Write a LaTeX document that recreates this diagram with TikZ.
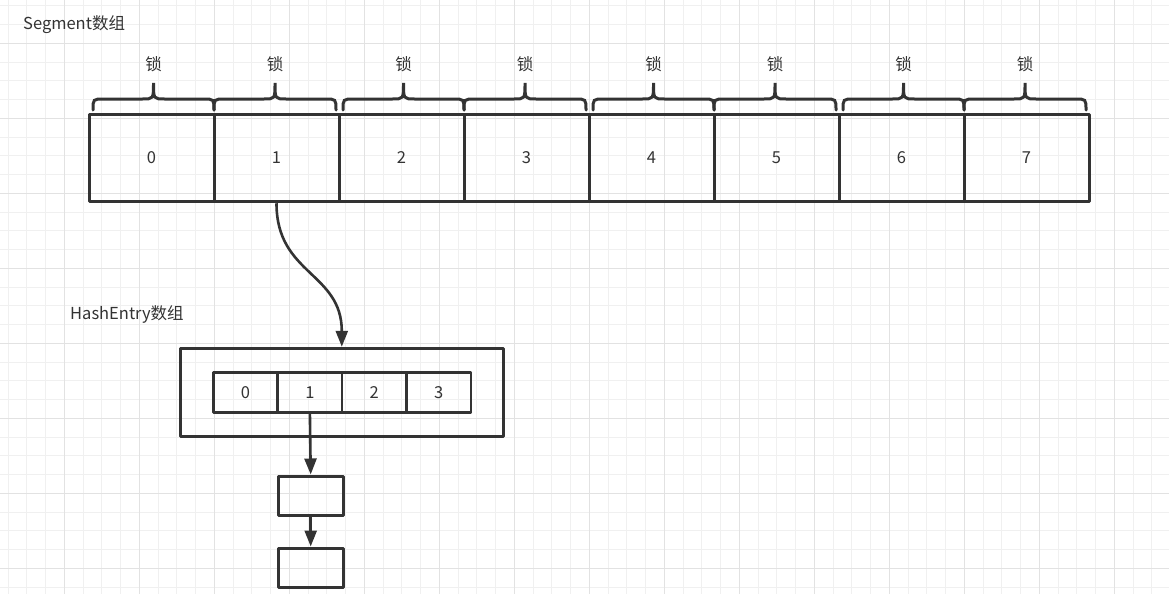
\documentclass[tikz,border=0pt]{standalone}
\usepackage{fontspec}
\setmainfont{Noto Sans CJK SC}
\usetikzlibrary{arrows.meta}
\definecolor{ink}{HTML}{333333}
\definecolor{gridminor}{HTML}{F0F0F0}
\definecolor{gridmajor}{HTML}{E2E2E2}
\tikzset{
  cell/.style={draw=ink, line width=3pt, line join=round, minimum width=125pt, minimum height=87.5pt, inner sep=0pt, font=\fontsize{16.5}{19}\selectfont, text=ink},
  outerbox/.style={draw=ink, line width=3pt, line join=round, minimum width=323pt, minimum height=88.5pt, inner sep=0pt},
  hcell/.style={draw=ink, line width=2.5pt, line join=round, minimum width=64.4pt, minimum height=39.6pt, inner sep=0pt, font=\fontsize{16.5}{19}\selectfont, text=ink},
  smallbox/.style={draw=ink, line width=3pt, line join=round, minimum width=65pt, minimum height=39pt, inner sep=0pt},
  lbl/.style={text=ink, font=\fontsize{16.5}{19}\selectfont, inner sep=0pt},
  brace/.style={draw=ink, line width=3pt, line cap=round},
  arr/.style={draw=ink, line width=2.6pt, -{Triangle[length=16pt,width=12pt]}},
}
\newcommand{\lockbrace}[3]{%
  \pgfmathsetmacro{\bm}{(#1+#2)/2}%
  \draw[brace] (#1,110) .. controls (#1,99) .. (#1+11,99) -- (\bm-11,99) .. controls (\bm,99) .. (\bm,83)
     .. controls (\bm,99) .. (\bm+11,99) -- (#2-11,99) .. controls (#2,99) .. (#2,110);
  \node[lbl] (#3) at (\bm,64) {锁};
}
\begin{document}
\begin{tikzpicture}[x=1pt,y=-1pt]
\useasboundingbox (0,0) rectangle (1169,594);
\fill[white] (0,0) rectangle (1169,594);
% grid
\foreach \i in {0,...,62} {
  \pgfmathsetmacro{\gx}{8.05+18.75*\i}
  \draw[gridminor, line width=1pt] (\gx,0) -- (\gx,594);
}
\foreach \i in {0,...,31} {
  \pgfmathsetmacro{\gy}{5.8+18.75*\i}
  \draw[gridminor, line width=1pt] (0,\gy) -- (1169,\gy);
}
\foreach \i in {0,...,15} {
  \pgfmathsetmacro{\gx}{64.3+75*\i}
  \draw[gridmajor, line width=1pt] (\gx,0) -- (\gx,594);
}
\foreach \i in {0,...,7} {
  \pgfmathsetmacro{\gy}{43.3+75*\i}
  \draw[gridmajor, line width=1pt] (0,\gy) -- (1169,\gy);
}
% titles
\node[lbl, anchor=west] (segtitle) at (23,25) {Segment数组};
\node[lbl, anchor=west] (hashtitle) at (70,314) {HashEntry数组};
% segment cells
\foreach \i in {0,...,7} {
  \node[cell] (s\i) at (151.5+125*\i,158) {\i};
}
% braces
\lockbrace{93}{214}{l0}
\lockbrace{214}{336}{l1}
\lockbrace{343}{464}{l2}
\lockbrace{464}{586}{l3}
\lockbrace{593}{714}{l4}
\lockbrace{714}{836}{l5}
\lockbrace{843}{964}{l6}
\lockbrace{964}{1086}{l7}
% hash entry
\node[outerbox] (hout) at (341.8,392.5) {};
\foreach \i in {0,...,3} {
  \node[hcell] (h\i) at (245.5+64.4*\i,392.5) {\i};
}
\node[smallbox] (b1) at (310.7,495.5) {};
\node[smallbox] (b2) at (310.7,567.5) {};
% arrows
\draw[arr] (s1.south) .. controls (276.5,275) and (341.8,272) .. (hout.north);
\draw[arr] (h1.south) -- (b1.north);
\draw[arr] (b1.south) -- (b2.north);
\end{tikzpicture}
\end{document}
